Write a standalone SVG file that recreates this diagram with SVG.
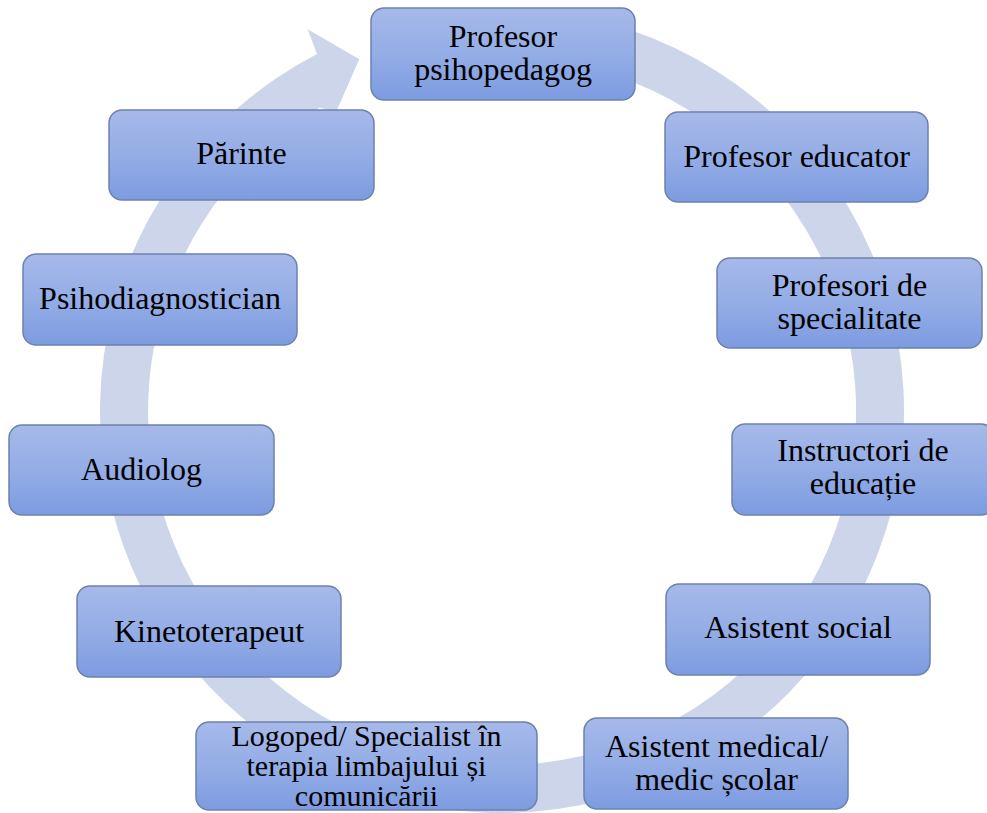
<svg xmlns="http://www.w3.org/2000/svg" width="987" height="813" viewBox="0 0 987 813">
  <defs>
    <linearGradient id="boxGrad" x1="0" y1="0" x2="0" y2="1">
      <stop offset="0" stop-color="#a6b9e9"/>
      <stop offset="0.5" stop-color="#94ade6"/>
      <stop offset="1" stop-color="#7d9be0"/>
    </linearGradient>
  </defs>
  <style>
    .box { fill: url(#boxGrad); stroke: #6d81ad; stroke-width: 1.5; }
    .lbl { font-family: "Liberation Serif", "Times New Roman", serif; font-size: 32px; fill: #000; text-anchor: middle; }
    .ml { font-size: 30px; }
    .ring { fill: #cdd5ea; stroke: none; }
  </style>
  <rect x="0" y="0" width="987" height="813" fill="#ffffff"/>

  <g id="connectors">
    <path class="ring" d="M 537.04 10.53 A 402 402 0 1 1 317.0 54.1 L 307.7 29.3 L 359.3 59.3 L 336 112 L 319.7 107.6 A 354 354 0 1 0 532.85 58.35 Z"/>
  </g>

  <g id="node-profesor-psihopedagog">
    <rect class="box" x="371" y="8" width="264" height="92" rx="13"/>
    <text class="lbl" x="503" y="47">Profesor</text>
    <text class="lbl" x="503" y="80">psihopedagog</text>
  </g>
  <g id="node-profesor-educator">
    <rect class="box" x="665" y="112" width="263" height="90" rx="13"/>
    <text class="lbl" x="796.5" y="167">Profesor educator</text>
  </g>
  <g id="node-profesori-specialitate">
    <rect class="box" x="717" y="258" width="265" height="90" rx="13"/>
    <text class="lbl" x="849.5" y="296">Profesori de</text>
    <text class="lbl" x="849.5" y="329">specialitate</text>
  </g>
  <g id="node-instructori">
    <rect class="box" x="732" y="424" width="262" height="91" rx="13"/>
    <text class="lbl" x="863" y="461">Instructori de</text>
    <text class="lbl" x="863" y="494">educație</text>
  </g>
  <g id="node-asistent-social">
    <rect class="box" x="666" y="584" width="264" height="91" rx="13"/>
    <text class="lbl" x="798" y="638">Asistent social</text>
  </g>
  <g id="node-asistent-medical">
    <rect class="box" x="584" y="718" width="264" height="91" rx="13"/>
    <text class="lbl" x="716.5" y="757">Asistent medical/</text>
    <text class="lbl" x="716.5" y="790">medic școlar</text>
  </g>
  <g id="node-logoped">
    <rect class="box" x="196" y="722" width="341" height="88" rx="13"/>
    <text class="lbl ml" x="366.5" y="746">Logoped/ Specialist în</text>
    <text class="lbl ml" x="366.5" y="776">terapia limbajului și</text>
    <text class="lbl ml" x="366.5" y="806">comunicării</text>
  </g>
  <g id="node-kinetoterapeut">
    <rect class="box" x="77" y="586" width="264" height="91" rx="13"/>
    <text class="lbl" x="209" y="642">Kinetoterapeut</text>
  </g>
  <g id="node-audiolog">
    <rect class="box" x="9" y="425" width="265" height="90" rx="13"/>
    <text class="lbl" x="141.5" y="480">Audiolog</text>
  </g>
  <g id="node-psihodiagnostician">
    <rect class="box" x="23" y="254" width="274" height="91" rx="13"/>
    <text class="lbl" x="160" y="309">Psihodiagnostician</text>
  </g>
  <g id="node-parinte">
    <rect class="box" x="109" y="110" width="265" height="90" rx="13"/>
    <text class="lbl" x="241.5" y="164">Părinte</text>
  </g>
</svg>
